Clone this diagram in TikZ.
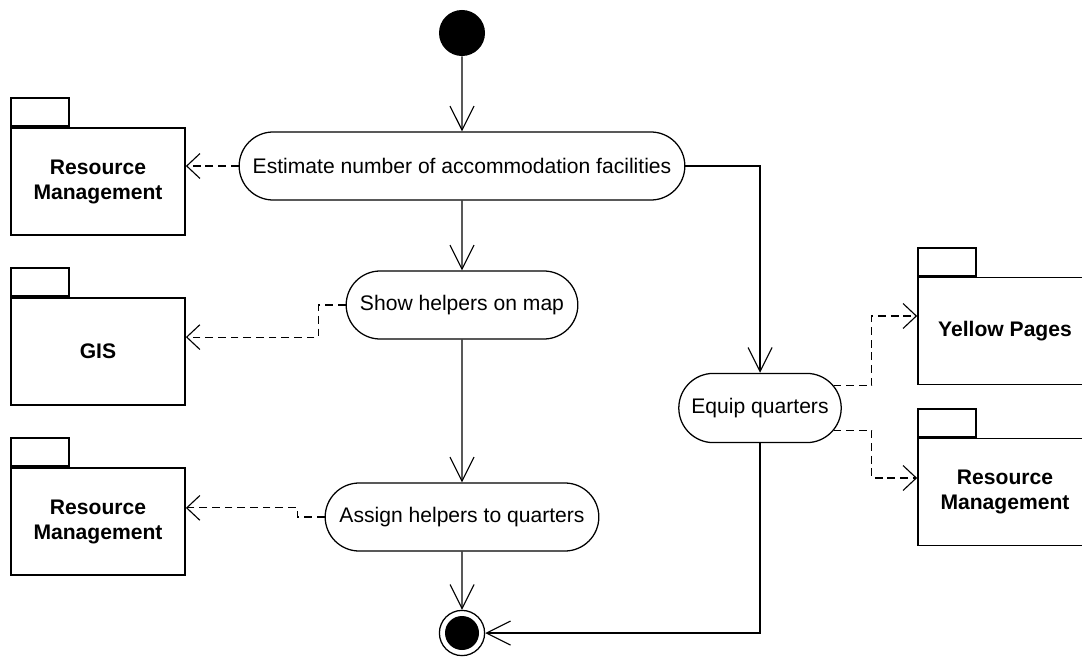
\documentclass[tikz,border=0pt]{standalone}
\usepackage{fontspec}
\setmainfont{Liberation Sans}
\usetikzlibrary{arrows.meta,shapes.misc}

\tikzset{
	action/.style={rounded rectangle, draw, line width=0.9pt, minimum height=1.7cm, inner sep=2pt},
	pkg/.style={rectangle, draw, line width=1.2pt, minimum width=4.35cm, minimum height=2.68cm, align=center, font=\fontsize{15}{17.8}\selectfont\bfseries},
	pkgtab/.style={rectangle, draw, line width=1.2pt, minimum width=1.45cm, minimum height=0.7cm, anchor=south west, inner sep=0pt},
	flow/.style={line width=0.8pt, -{Straight Barb[length=0.6cm, width=0.6cm]}},
	dep/.style={line width=0.8pt, dash pattern=on 5.5pt off 3.5pt, -{Straight Barb[length=0.33cm, width=0.62cm]}}
}

\begin{document}
\begin{tikzpicture}[x=0.025cm, y=-0.025cm, font=\fontsize{15}{18}\selectfont]
		
		\useasboundingbox (0,0) rectangle (1082,656);
		\clip (0,0) rectangle (1082,656);
		
		% Start / end
		
		\node[circle, fill=black, minimum size=1.15cm, inner sep=0pt]
		(start) at (462,33) {};
		
		\node[circle, draw, line width=0.9pt, minimum size=1.13cm, inner sep=0pt]
		(finalo) at (462,633) {};
		\node[circle, fill=black, minimum size=0.85cm, inner sep=0pt]
		(final) at (462,633) {};
		
		% Node
		
		\node[action, minimum width=11.28cm]
		(estimate) at (462,166) {Estimate number of accommodation facilities};
		\node[action, minimum width=5.93cm]
		(show) at (462,305) {Show helpers on map};
		\node[action, minimum width=6.98cm]
		(assign) at (462,517) {Assign helpers to quarters};
		\node[action, minimum width=4.2cm, minimum height=1.73cm]
		(equip) at (760,408) {Equip quarters};
		
		% Packages
		
		\node[pkg] (rm1) at (98,181.5) {Resource\\Management};
		\node[pkgtab] (rm1tab) at (rm1.north west) {};
		
		\node[pkg] (gis) at (98,351.5) {GIS};
		\node[pkgtab] (gistab) at (gis.north west) {};
		
		\node[pkg] (rm2) at (98,521.5) {Resource\\Management};
		\node[pkgtab] (rm2tab) at (rm2.north west) {};
		
		\node[pkg] (yp) at (1005,331) {Yellow Pages};
		\node[pkgtab] (yptab) at (yp.north west) {};
		
		\node[pkg] (rm3) at (1005,492) {Resource\\Management};
		\node[pkgtab] (rm3tab) at (rm3.north west) {};
		
		% EDGE
		
		\draw[flow] (start) -- (estimate);
		\draw[flow] (estimate) -- (show);
		\draw[flow] (show) -- (assign);
		\draw[flow] (assign) -- (finalo);
		\draw[flow] (estimate.east) -| (equip);
		\draw[flow] (equip) |- (finalo);
		
		% Dependency EDGE
		
		\draw[dep] (estimate.west) -- (estimate.west -| rm1.east);
		\draw[dep] (show.west) -- ++(-27,0) |- ([yshift=0.36cm]gis.east);
		\draw[dep] (assign.west) -- ++(-27,0) |- ([yshift=0.34cm]rm2.east);
		\draw[dep] (equip.17) -- ++(38,0) |- ([yshift=0.375cm]yp.west);
		\draw[dep] (equip.-17) -- ++(38,0) |- ([yshift=0.35cm]rm3.west);
		
	\end{tikzpicture}
\end{document}
